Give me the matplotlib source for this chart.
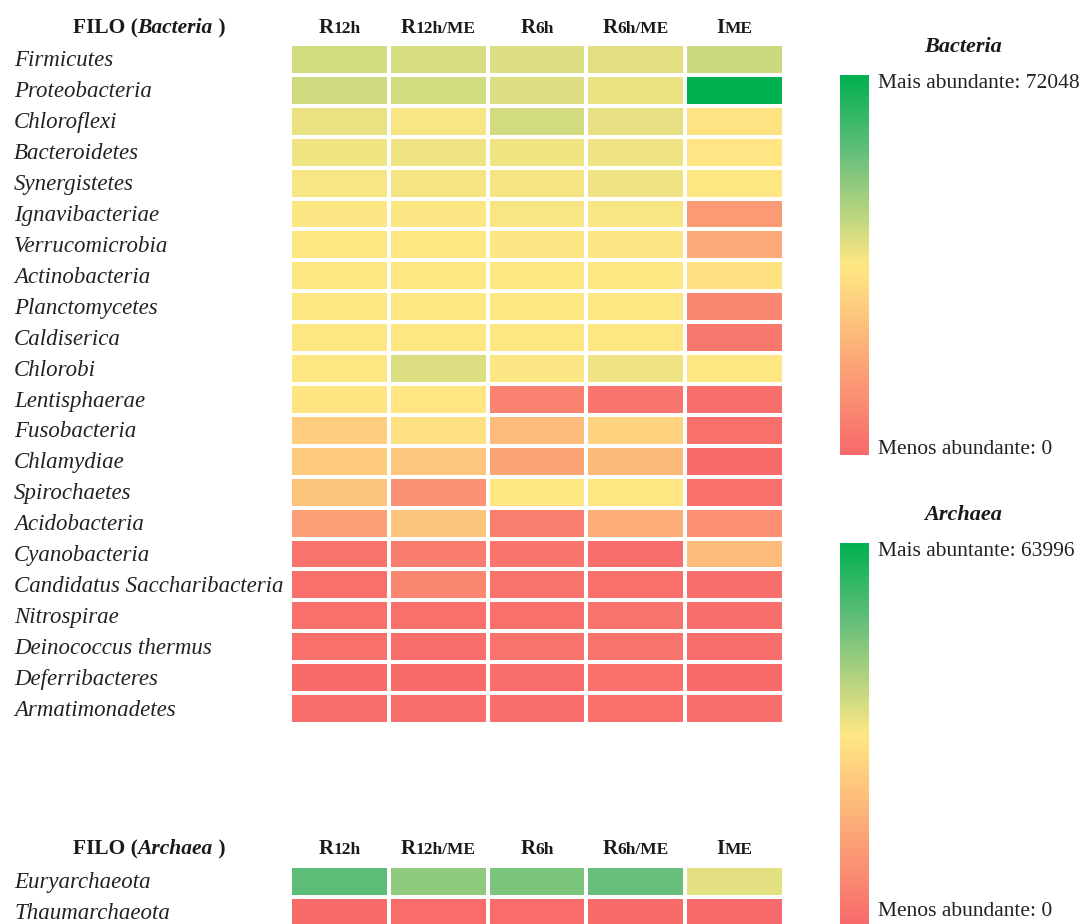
import numpy as np
import matplotlib
matplotlib.use("Agg")
import matplotlib.pyplot as plt
from matplotlib.colors import LinearSegmentedColormap, TwoSlopeNorm
from matplotlib.cm import ScalarMappable
from matplotlib.offsetbox import TextArea, HPacker, AnnotationBbox
from matplotlib.transforms import blended_transform_factory

# ---------------- data ----------------
samples = ["R12h", "R12h/ME", "R6h", "R6h/ME", "IME"]

bacteria_phyla = [
    "Firmicutes", "Proteobacteria", "Chloroflexi", "Bacteroidetes",
    "Synergistetes", "Ignavibacteriae", "Verrucomicrobia", "Actinobacteria",
    "Planctomycetes", "Caldiserica", "Chlorobi", "Lentisphaerae",
    "Fusobacteria", "Chlamydiae", "Spirochaetes", "Acidobacteria",
    "Cyanobacteria", "Candidatus Saccharibacteria", "Nitrospirae",
    "Deinococcus thermus", "Deferribacteres", "Armatimonadetes",
]
bacteria_counts = [
    [13760, 12780, 11800, 9840, 15720],
    [14740, 13760, 11800, 7880, 72048],
    [7880, 3960, 13760, 8860, 1920],
    [5920, 6900, 5920, 6900, 1960],
    [3960, 4940, 4940, 6900, 2000],
    [2980, 2980, 3960, 3960, 800],
    [2000, 2000, 2980, 2980, 1000],
    [2150, 2080, 2300, 2200, 1900],
    [2100, 2050, 2200, 2150, 480],
    [2050, 2000, 2100, 2100, 240],
    [2000, 11800, 2980, 6900, 2050],
    [1950, 1980, 400, 200, 80],
    [1600, 1880, 1320, 1680, 120],
    [1520, 1480, 960, 1280, 40],
    [1440, 680, 2050, 2020, 120],
    [880, 1440, 360, 1080, 600],
    [160, 320, 200, 80, 1320],
    [120, 480, 160, 120, 80],
    [120, 120, 120, 160, 80],
    [120, 80, 160, 160, 80],
    [40, 40, 80, 120, 40],
    [80, 80, 80, 120, 80],
]

archaea_phyla = ["Euryarchaeota", "Thaumarchaeota"]
archaea_counts = [
    [40400, 28400, 33200, 38000, 8700],
    [40, 60, 50, 40, 30],
]

bacteria_min, bacteria_mid, bacteria_max = 0, 2000, 72048
archaea_min, archaea_mid, archaea_max = 0, 2000, 63996

# ---------------- styling ----------------
W, H = 1091, 924
SERIF = ["Liberation Serif", "DejaVu Serif"]
cmap = LinearSegmentedColormap.from_list(
    "abundance",
    [(0.0, "#F8696B"), (0.5, "#FFE783"), (0.8, "#63BE7B"), (1.0, "#00B050")],
)

fig = plt.figure(figsize=(W / 100, H / 100), dpi=100)
fig.patch.set_facecolor("white")

# full-size layer in pixel units that holds all the texts
bg = fig.add_axes([0, 0, 1, 1], zorder=-1)
bg.set_xlim(0, W)
bg.set_ylim(H, 0)
bg.axis("off")


def rect(x0, y0, x1, y1):
    return [x0 / W, 1 - y1 / H, (x1 - x0) / W, (y1 - y0) / H]


def smallcaps(label, big=15, small=12.5):
    parts = [TextArea(label[0], textprops=dict(fontsize=big, fontweight="bold",
                                               family=SERIF, color="#1a1a1a")),
             TextArea(label[1:], textprops=dict(fontsize=small, fontweight="bold",
                                                family=SERIF, color="#1a1a1a"))]
    return HPacker(children=parts, align="baseline", pad=0, sep=0)


def title_box(group):
    bold = dict(fontsize=15.5, fontweight="bold", family=SERIF, color="#1a1a1a")
    ital = dict(fontsize=15.5, fontweight="bold", fontstyle="italic",
                family=SERIF, color="#1a1a1a")
    parts = [TextArea("FILO (", textprops=bold),
             TextArea(group, textprops=ital),
             TextArea(" )", textprops=bold)]
    return HPacker(children=parts, align="baseline", pad=0, sep=0)


def heatmap(box, counts, phyla, norm, group, header_y):
    ax = fig.add_axes(rect(*box))
    data = np.array(counts, dtype=float)
    ax.pcolormesh(data, cmap=cmap, norm=norm, edgecolors="white", linewidth=1.5)
    ax.set_xlim(0, data.shape[1])
    ax.set_ylim(data.shape[0], 0)
    ax.axis("off")

    row_tr = blended_transform_factory(bg.transData, ax.transData)
    for i, name in enumerate(phyla):
        bg.text(14, i + 0.55, name, transform=row_tr, ha="left", va="center",
                fontsize=16.5, fontstyle="italic", family=SERIF, color="#222222")

    col_tr = blended_transform_factory(ax.transData, bg.transData)
    for j, s in enumerate(samples):
        bg.add_artist(AnnotationBbox(smallcaps(s), (j + 0.5, header_y),
                                     xycoords=col_tr, frameon=False,
                                     box_alignment=(0.5, 0.5), pad=0))
    bg.add_artist(AnnotationBbox(title_box(group), (149, header_y),
                                 xycoords="data", frameon=False,
                                 box_alignment=(0.5, 0.5), pad=0))
    return ax


def legend_bar(box, norm, title, title_y, top_text, top_y, bottom_text, bottom_y):
    cax = fig.add_axes(rect(*box))
    cb = fig.colorbar(ScalarMappable(norm=norm, cmap=cmap), cax=cax)
    cb.outline.set_visible(False)
    cax.set_yticks([])
    cax.minorticks_off()
    bg.text(963, title_y, title, ha="center", va="center", fontsize=16,
            fontweight="bold", fontstyle="italic", family=SERIF, color="#1a1a1a")
    bg.text(878, top_y, top_text, ha="left", va="center", fontsize=15.5,
            family=SERIF, color="#222222")
    bg.text(878, bottom_y, bottom_text, ha="left", va="center", fontsize=15.5,
            family=SERIF, color="#222222")


bact_norm = TwoSlopeNorm(vmin=bacteria_min, vcenter=bacteria_mid, vmax=bacteria_max)
arch_norm = TwoSlopeNorm(vmin=archaea_min, vcenter=archaea_mid, vmax=archaea_max)

heatmap((290, 44, 784, 724), bacteria_counts, bacteria_phyla, bact_norm,
        "Bacteria", 28)
heatmap((290, 866, 784, 927), archaea_counts, archaea_phyla, arch_norm,
        "Archaea", 849)

legend_bar((840, 75, 869, 455), bact_norm, "Bacteria", 47,
           f"Mais abundante: {bacteria_max}", 83,
           f"Menos abundante: {bacteria_min}", 449)
legend_bar((840, 543, 869, 926), arch_norm, "Archaea", 515,
           f"Mais abuntante: {archaea_max}", 551,
           f"Menos abundante: {archaea_min}", 911)

fig.savefig("out.png", dpi=100, facecolor="white")
